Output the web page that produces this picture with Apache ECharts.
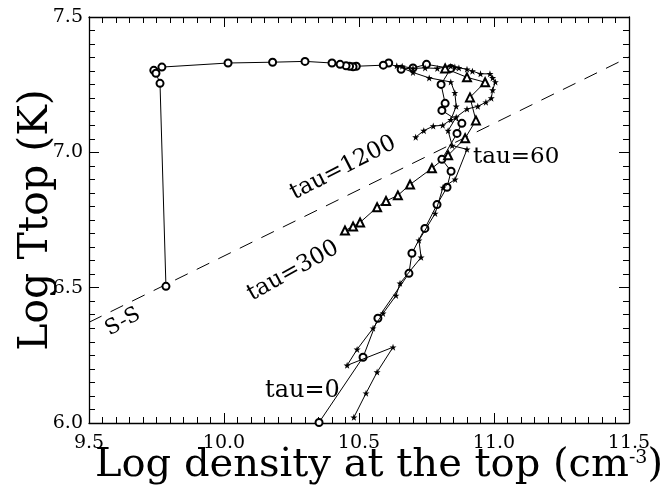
<!DOCTYPE html>
<html>
<head>
<meta charset="utf-8">
<title>Log Ttop vs Log density</title>
<script src="https://cdn.jsdelivr.net/npm/echarts@6/dist/echarts.min.js"></script>
<style>
  html, body { margin: 0; padding: 0; background: #fff; }
  #chart { width: 668px; height: 489px; }
</style>
</head>
<body>
<div id="chart"></div>
<script>
// Axis ranges and tick spacing
const xRange = [9.5, 11.5];
const yRange = [6.0, 7.5];
const majorStep = 0.5;

// Track with open circles: starts at tau=0 (bottom), loops near the top,
// runs left along Log T ~ 7.33 and drops back down to the S-S line
const circleTrack = [
  [10.352, 6.002], [10.515, 6.243], [10.570, 6.387], [10.685, 6.553],
  [10.696, 6.627], [10.744, 6.719], [10.789, 6.807], [10.826, 6.871],
  [10.841, 6.930], [10.807, 6.974], [10.863, 7.070], [10.881, 7.107],
  [10.807, 7.155], [10.819, 7.181], [10.804, 7.251], [10.840, 7.310],
  [10.750, 7.325], [10.700, 7.312], [10.656, 7.307], [10.610, 7.330],
  [10.590, 7.322], [10.490, 7.318], [10.478, 7.316], [10.465, 7.318],
  [10.452, 7.320], [10.430, 7.325], [10.400, 7.330], [10.300, 7.336],
  [10.180, 7.333], [10.015, 7.330], [9.770, 7.315], [9.740, 7.303],
  [9.748, 7.292], [9.763, 7.255], [9.785, 6.505]
];

// Track with star markers: rises from the bottom, circles the top-right
// corner and ends near the tau=1200 label
const starTrack = [
  [10.481, 6.021], [10.526, 6.110], [10.567, 6.188], [10.626, 6.280],
  [10.456, 6.213], [10.493, 6.272], [10.552, 6.350], [10.589, 6.405],
  [10.637, 6.471], [10.652, 6.516], [10.730, 6.612], [10.722, 6.675],
  [10.782, 6.774], [10.811, 6.870], [10.856, 6.900], [10.900, 7.011],
  [10.845, 7.025], [10.830, 7.080], [10.860, 7.130], [10.900, 7.160],
  [10.940, 7.170], [10.970, 7.185], [10.990, 7.200], [10.995, 7.230],
  [11.005, 7.260], [10.995, 7.275], [10.985, 7.290], [10.950, 7.290],
  [10.920, 7.300], [10.900, 7.307], [10.870, 7.312], [10.855, 7.315],
  [10.840, 7.318], [10.790, 7.310], [10.745, 7.312], [10.700, 7.310],
  [10.660, 7.318], [10.640, 7.320], [10.700, 7.295], [10.760, 7.275],
  [10.840, 7.260], [10.855, 7.220], [10.860, 7.170], [10.840, 7.120],
  [10.810, 7.100], [10.775, 7.097], [10.740, 7.080], [10.710, 7.056]
];

// Track with open triangles: from the top-right corner down to tau=300
const triangleTrack = [
  [10.819, 7.310], [10.900, 7.277], [10.967, 7.259], [10.911, 7.203],
  [10.933, 7.118], [10.893, 7.052], [10.830, 6.989], [10.770, 6.941],
  [10.689, 6.881], [10.644, 6.841], [10.600, 6.820], [10.567, 6.797],
  [10.504, 6.741], [10.478, 6.726], [10.448, 6.711]
];

// S-S scaling law (dashed)
const ssLine = [[9.5, 6.372], [11.5, 7.352]];

const serif = 'DejaVu Serif';
const starPath = 'path://M0,-10 L2.35,-3.09 L9.51,-3.09 L3.8,1.18 L5.88,8.09 L0,3.82 L-5.88,8.09 L-3.8,1.18 L-9.51,-3.09 L-2.35,-3.09 Z';

function valueAxis(range, position, showLabels, extra) {
  return Object.assign({
    type: 'value',
    min: range[0],
    max: range[1],
    interval: majorStep,
    position: position,
    axisLine: { show: true, onZero: false, lineStyle: { color: '#000', width: 1.3 } },
    axisTick: { show: true, inside: true, length: 10, lineStyle: { color: '#000', width: 1 } },
    minorTick: { show: true, splitNumber: 10, length: 6, lineStyle: { color: '#000', width: 1 } },
    splitLine: { show: false },
    minorSplitLine: { show: false },
    axisLabel: { show: showLabels }
  }, extra || {});
}

const chart = echarts.init(document.getElementById('chart'), null, { renderer: 'canvas' });

chart.setOption({
  backgroundColor: '#fff',
  animation: false,
  grid: { left: 89, right: 39, top: 17, bottom: 66, containLabel: false, outerBoundsMode: 'none' },
  xAxis: [
    valueAxis(xRange, 'bottom', true, {
      name: 'Log density at the top (cm{sup|-3})',
      nameLocation: 'middle',
      nameGap: 23,
      nameMoveOverlap: false,
      nameTextStyle: {
        color: '#000', fontFamily: serif, fontSize: 40, padding: [0, 0, 0, 40],
        rich: { sup: { fontFamily: serif, fontSize: 19, color: '#000', padding: [0, 0, 15, 0] } }
      },
      axisLabel: { show: true, color: '#000', fontFamily: serif, fontSize: 19, margin: 11, formatter: v => v.toFixed(1) }
    }),
    valueAxis(xRange, 'top', false)
  ],
  yAxis: [
    valueAxis(yRange, 'left', true, {
      name: 'Log Ttop (K)',
      nameLocation: 'middle',
      nameGap: 32,
      nameMoveOverlap: false,
      nameTextStyle: { color: '#000', fontFamily: serif, fontSize: 41 },
      axisLabel: { show: true, color: '#000', fontFamily: serif, fontSize: 19, margin: 6, formatter: v => v.toFixed(1) }
    }),
    valueAxis(yRange, 'right', false)
  ],
  series: [
    {
      type: 'line', name: 'S-S', data: ssLine, showSymbol: false, silent: true,
      lineStyle: { color: '#000', width: 1, type: [14, 10] }, z: 1
    },
    {
      type: 'line', name: 'circles', data: circleTrack,
      symbol: 'emptyCircle', symbolSize: 7,
      lineStyle: { color: '#000', width: 1 },
      itemStyle: { color: '#000', borderWidth: 1 }, z: 3
    },
    {
      type: 'line', name: 'stars', data: starTrack,
      symbol: starPath, symbolSize: 7,
      lineStyle: { color: '#000', width: 1 },
      itemStyle: { color: '#000' }, z: 4
    },
    {
      type: 'line', name: 'triangles', data: triangleTrack,
      symbol: 'emptyTriangle', symbolSize: 8,
      lineStyle: { color: '#000', width: 1 },
      itemStyle: { color: '#000', borderWidth: 1 }, z: 3
    }
  ],
  graphic: [
    { type: 'text', x: 343, y: 168, rotation: 27 * Math.PI / 180,
      style: { text: 'tau=1200', fontFamily: serif, fontSize: 23, fill: '#000', align: 'center', verticalAlign: 'middle' } },
    { type: 'text', x: 293, y: 271, rotation: 29 * Math.PI / 180,
      style: { text: 'tau=300', fontFamily: serif, fontSize: 23, fill: '#000', align: 'center', verticalAlign: 'middle' } },
    { type: 'text', x: 473, y: 157,
      style: { text: 'tau=60', fontFamily: serif, fontSize: 23, fill: '#000', align: 'left', verticalAlign: 'middle' } },
    { type: 'text', x: 265, y: 391,
      style: { text: 'tau=0', fontFamily: serif, fontSize: 24, fill: '#000', align: 'left', verticalAlign: 'middle' } },
    { type: 'text', x: 123, y: 322, rotation: 29 * Math.PI / 180,
      style: { text: 'S-S', fontFamily: serif, fontSize: 21, fill: '#000', align: 'center', verticalAlign: 'middle' } }
  ]
});
</script>
</body>
</html>
